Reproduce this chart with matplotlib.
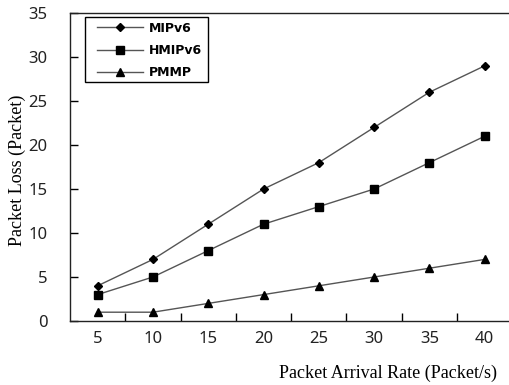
import matplotlib
matplotlib.use("Agg")
import matplotlib.pyplot as plt
from matplotlib.patches import Rectangle

rates = ["5", "10", "15", "20", "25", "30", "35", "40"]
mipv6 = [4, 7, 11, 15, 18, 22, 26, 29]
hmipv6 = [3, 5, 8, 11, 13, 15, 18, 21]
pmmp = [1, 1, 2, 3, 4, 5, 6, 7]
series_names = ["MIPv6", "HMIPv6", "PMMP"]

W, H = 510, 385
fig = plt.figure(figsize=(W / 100, H / 100), dpi=100)
left, right, top, bottom = 70, 513, 13, 321
ax = fig.add_axes([left / W, 1 - bottom / H, (right - left) / W, (bottom - top) / H])

x = list(range(len(rates)))
lc = "#555555"
ax.plot(x, mipv6, color=lc, lw=1.0, marker="D", ms=4, mfc="black", mec="black", label=series_names[0])
ax.plot(x, hmipv6, color=lc, lw=1.0, marker="s", ms=6, mfc="black", mec="black", label=series_names[1])
ax.plot(x, pmmp, color=lc, lw=1.0, marker="^", ms=6, mfc="black", mec="black", label=series_names[2])

ax.set_xlim(-0.5, -0.5 + (right - left) / 55.3)
ax.set_ylim(0, 35)
ax.set_yticks(range(0, 36, 5))
ax.set_xticks(x)
ax.set_xticklabels(rates)
ax.set_xticks([i + 0.5 for i in range(len(rates) - 1)], minor=True)
ax.tick_params(axis="x", which="major", length=0, pad=7, labelsize=12, labelcolor="#222222")
ax.tick_params(axis="x", which="minor", direction="in", length=6, width=1)
ax.tick_params(axis="y", direction="in", length=6, width=1, pad=16, labelsize=12, labelcolor="#222222")
for lab in ax.get_xticklabels() + ax.get_yticklabels():
    lab.set_family("Noto Sans")

ax.spines["right"].set_visible(False)
for s in ["left", "bottom", "top"]:
    ax.spines[s].set_linewidth(1.0)
    ax.spines[s].set_color("#222222")

fig.text(17 / W, 1 - 170 / H, "Packet Loss (Packet)", rotation=90, ha="center", va="center",
         family="Liberation Serif", fontsize=13)
fig.text(497 / W, 1 - 373 / H, "Packet Arrival Rate (Packet/s)", ha="right", va="center",
         family="Liberation Serif", fontsize=13)

# legend frame drawn separately
fig.add_artist(Rectangle((85 / W, 1 - 82 / H), (208 - 85) / W, (82 - 17) / H,
                         transform=fig.transFigure, fill=True, facecolor="white",
                         edgecolor="black", lw=1.0, zorder=5))
leg = fig.legend(*ax.get_legend_handles_labels(), loc="upper left",
                 bbox_to_anchor=(97 / W, 1 - 21.5 / H), bbox_transform=fig.transFigure,
                 frameon=False, handlelength=3.7,
                 borderaxespad=0, borderpad=0, labelspacing=0.75, handletextpad=0.45,
                 prop={"family": "DejaVu Sans", "weight": "bold", "size": 9})
leg.set_zorder(6)

fig.savefig("out.png", dpi=100)
